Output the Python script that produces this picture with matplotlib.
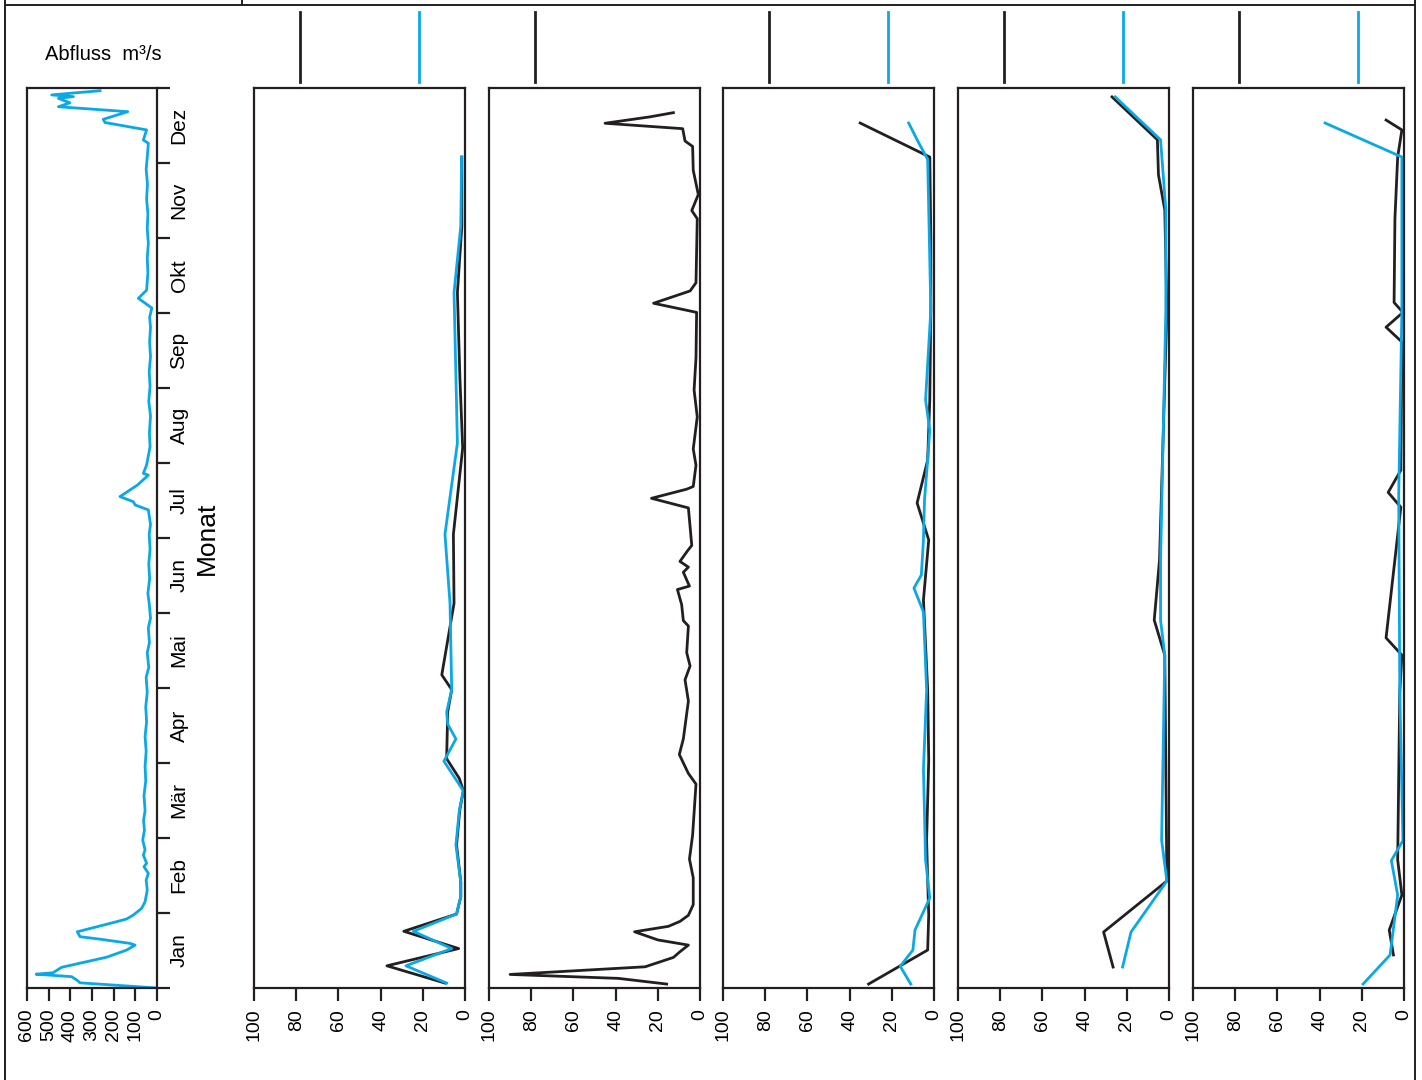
import matplotlib.pyplot as plt
from matplotlib.lines import Line2D
import matplotlib.transforms as mtransforms

plt.rcParams["font.family"] = ["Liberation Sans", "DejaVu Sans"]

# Monate (Achse: Tag im Jahr, 12 gleich breite Abschnitte)
months = ["Jan", "Feb", "Mär", "Apr", "Mai", "Jun", "Jul", "Aug", "Sep", "Okt", "Nov", "Dez"]

# Abfluss m3/s (Tag im Jahr, Wert)
q_days = [0, 2.1, 3.2, 4.6, 5.6, 6.2, 8.4, 12.5, 15.4, 17.4, 18.1, 19.8, 20.8, 22.8, 26.9, 28,
          29.6, 32.3, 35, 39.7, 43.8, 46.5, 49.2, 50.6, 53.9, 56, 60, 64, 68, 72, 78, 84, 90,
          96, 102, 108, 114, 120, 126, 130, 136, 140, 146, 150, 156, 160, 166, 172, 178, 184,
          188, 193.9, 195.9, 197.2, 199.3, 200.6, 204, 208, 208.7, 212.1, 219.5, 225, 232, 238,
          244, 250, 256, 262, 268, 272, 275.8, 279.7, 283, 290, 296, 302, 308, 314, 320, 326,
          332, 338, 342.6, 343.9, 348, 351, 352.3, 355.4, 357.4, 359, 360.8, 361.5, 362.2, 363.9]
q_vals = [0, 355, 370, 394, 558, 480, 440, 232, 140, 101, 125, 263, 355, 368, 186, 140,
          109, 71, 55, 45, 50, 40, 60, 48, 63, 55, 66, 58, 62, 55, 60, 52, 55,
          50, 55, 48, 52, 45, 50, 38, 45, 35, 40, 30, 36, 42, 34, 38, 32, 36,
          30, 40, 101, 109, 171, 148, 90, 40, 63, 48, 32, 35, 30, 38,
          32, 36, 30, 34, 30, 34, 24, 86, 48, 42, 45, 40, 45, 42, 48, 44,
          50, 44, 40, 63, 48, 240, 248, 135, 455, 402, 455, 386, 486, 263]

# Messreihen, schwarz und blau
p2_black_days = [2, 9, 16, 23, 30, 37, 43, 58, 72, 80, 85, 93, 112, 121, 127, 156, 184, 219, 247, 282, 309, 337]
p2_black_vals = [9.5, 37, 3, 29, 4, 2, 2, 4, 2.5, 0.8, 2.7, 8.7, 8.2, 6.3, 11, 5.2, 5.5, 1.1, 2.4, 3.6, 1.5, 1.5]
p2_blue_days = [2, 9, 16, 23, 30, 37, 43, 58, 72, 80, 92, 101, 107, 112, 121, 156, 184, 221, 282, 309, 337]
p2_blue_vals = [8.7, 28, 6.3, 24.5, 4, 2, 2, 4.3, 2.7, 0.8, 10, 4.3, 8.2, 8.7, 6.3, 7.1, 9.5, 3.6, 5.2, 2, 1.6]

p3_black_days = [1.6, 3.9, 5.5, 8.6, 12.4, 14.7, 17.4, 19.5, 22.8, 25, 27, 29.5, 33.8, 44.7, 52.3,
                 62, 82.7, 87, 94.7, 101, 116.4, 125, 130.6, 136, 146.8, 149, 155.5, 161.6, 163,
                 168.6, 170.7, 173, 177.2, 179.5, 194.7, 198.6, 202.3, 203.4, 212, 218.6, 231.6,
                 242.5, 255.5, 274, 277.7, 282.7, 286, 299, 312, 315.3, 321.8, 331.6, 341.3,
                 343.5, 348.5, 350.7, 353.3, 355]
p3_black_vals = [15.8, 38.7, 90, 26, 12.6, 9.5, 5.5, 20, 31, 15, 9.5, 5.5, 3.2, 3.2, 5,
                 3.5, 1.9, 5.5, 9.8, 7.9, 5.5, 7.1, 4.7, 6.3, 5.5, 7.9, 8.7, 10.7, 5,
                 7.9, 5.5, 9.5, 6, 3.9, 5.5, 23, 6.3, 3.2, 1.9, 3.2, 1.3,
                 2.8, 1.9, 1.6, 22, 4.7, 1.9, 1.6, 1.3, 3.9, 0.8, 3.2, 3.5,
                 7.1, 8.2, 45, 23.7, 12.6]

p4_black_days = [1.6, 15.4, 29.6, 43.8, 60, 92.5, 120.9, 157.4, 181.7, 196.7, 214.1, 238.5, 275, 303.4, 337, 350.8]
p4_black_vals = [31, 3, 2.5, 3, 3.5, 2.5, 3, 5, 2.5, 8, 3, 2, 1.5, 1.5, 2, 35]
p4_blue_days = [1.6, 8.8, 15.4, 23.5, 36.5, 52, 88.6, 120.9, 152.5, 162.2, 167.5, 181.7, 198, 214.1, 226.3, 238.5, 275, 336, 344, 350.8]
p4_blue_vals = [11, 16, 10, 9, 2, 4, 5, 3.5, 5, 9.5, 6, 5, 4.5, 3, 2, 4, 1.5, 3, 8, 12]

p5_black_days = [8.5, 22.7, 43.4, 135, 149.2, 173.5, 275, 315.6, 329.8, 344, 361.4]
p5_black_vals = [26.5, 31, 1, 2, 7, 4.5, 1, 2, 5, 5.5, 27]
p5_blue_days = [8.5, 22.7, 43.4, 60, 135, 149.2, 173.5, 275, 315.6, 344, 361.4]
p5_blue_vals = [22, 18, 1, 3.5, 2, 4, 4, 1.5, 1.5, 4, 25.5]

p6_black_days = [13.4, 23.5, 37.7, 52, 120, 135, 142, 195, 201, 210, 262, 268, 274, 278, 312, 337, 348, 352]
p6_black_vals = [5, 7, 1, 3, 2, 1, 8.5, 1.5, 7.5, 1.5, 1, 8.5, 0.5, 4.7, 4.3, 3, 1, 8.5]
p6_blue_days = [1.6, 13.4, 37.7, 51.7, 59.8, 120, 200, 275, 337, 350.8]
p6_blue_vals = [19.4, 6.6, 3, 6, 0.5, 2, 2.5, 1, 1, 37.4]

series = [
    [(p2_black_days, p2_black_vals, "k"), (p2_blue_days, p2_blue_vals, "b")],
    [(p3_black_days, p3_black_vals, "k")],
    [(p4_black_days, p4_black_vals, "k"), (p4_blue_days, p4_blue_vals, "b")],
    [(p5_black_days, p5_black_vals, "k"), (p5_blue_days, p5_blue_vals, "b")],
    [(p6_black_days, p6_black_vals, "k"), (p6_blue_days, p6_blue_vals, "b")],
]

BLACK = "#231f20"
BLUE = "#0aa8e6"
colors = {"k": BLACK, "b": BLUE}

W, H = 1422, 1080
fig = plt.figure(figsize=(W / 100, H / 100), dpi=100)

bottom = 1 - 988 / H
height = 900 / H
month_edges = [i * 365 / 12 for i in range(13)]
month_mids = [(i + 0.5) * 365 / 12 for i in range(12)]


def style_axis(ax):
    for sp in ax.spines.values():
        sp.set_linewidth(1.6)
        sp.set_color(BLACK)
    ax.tick_params(axis="x", direction="out", length=9, width=1.6, pad=6,
                   labelsize=14, labelrotation=90, color=BLACK)


# Panel 1: Abfluss
ax1 = fig.add_axes([27 / W, bottom, 130 / W, height])
ax1.plot(q_vals, q_days, color=BLUE, lw=2.0)
ax1.set_xlim(600, 0)
ax1.set_ylim(0, 365)
ax1.set_xticks(range(0, 601, 100))
style_axis(ax1)
ax1.yaxis.tick_right()
ax1.set_yticks(month_edges)
ax1.set_yticklabels([])
ax1.set_yticks(month_mids, minor=True)
ax1.set_yticklabels(months, minor=True, rotation=90, va="center")
ax1.tick_params(axis="y", which="major", direction="out", length=9, width=1.6, color=BLACK)
ax1.tick_params(axis="y", which="minor", length=0, pad=9, labelsize=15)
for sp in ax1.spines.values():
    sp.set_clip_on(False)

fig.text(207 / W, 1 - 538 / H, "Monat", rotation=90, fontsize=19, ha="center", va="center")
fig.text(45 / W, 1 - 55 / H, "Abfluss  m³/s", fontsize=14.5, ha="left", va="center")

# Panels 2-6
lefts = [254, 489, 723, 958, 1193]
for left, ser in zip(lefts, series):
    ax = fig.add_axes([left / W, bottom, 211 / W, height])
    for d, v, c in ser:
        ax.plot(v, d, color=colors[c], lw=2.0)
    ax.set_xlim(100, 0)
    ax.set_ylim(0, 365)
    ax.set_xticks(range(0, 101, 20))
    ax.set_yticks([])
    style_axis(ax)
    # Legendenstriche über dem Panel
    trans = mtransforms.blended_transform_factory(ax.transData, ax.transAxes)
    keys = [c for _, _, c in ser]
    for xv, c in [(78, "k"), (22, "b")]:
        if c in keys:
            ax.add_line(Line2D([xv, xv], [1.0067, 1.0844], transform=trans,
                               color=colors[c], lw=2.0, clip_on=False))

# Rahmen
frame = [([5, 5], [0, H]), ([5, 1415], [5, 5]), ([242, 242], [0, 5]), ([1415, 1415], [0, H])]
for xs, ys in frame:
    fig.add_artist(Line2D([x / W for x in xs], [1 - y / H for y in ys],
                          transform=fig.transFigure, color=BLACK, lw=1.4))

fig.savefig("out.png", dpi=100)
